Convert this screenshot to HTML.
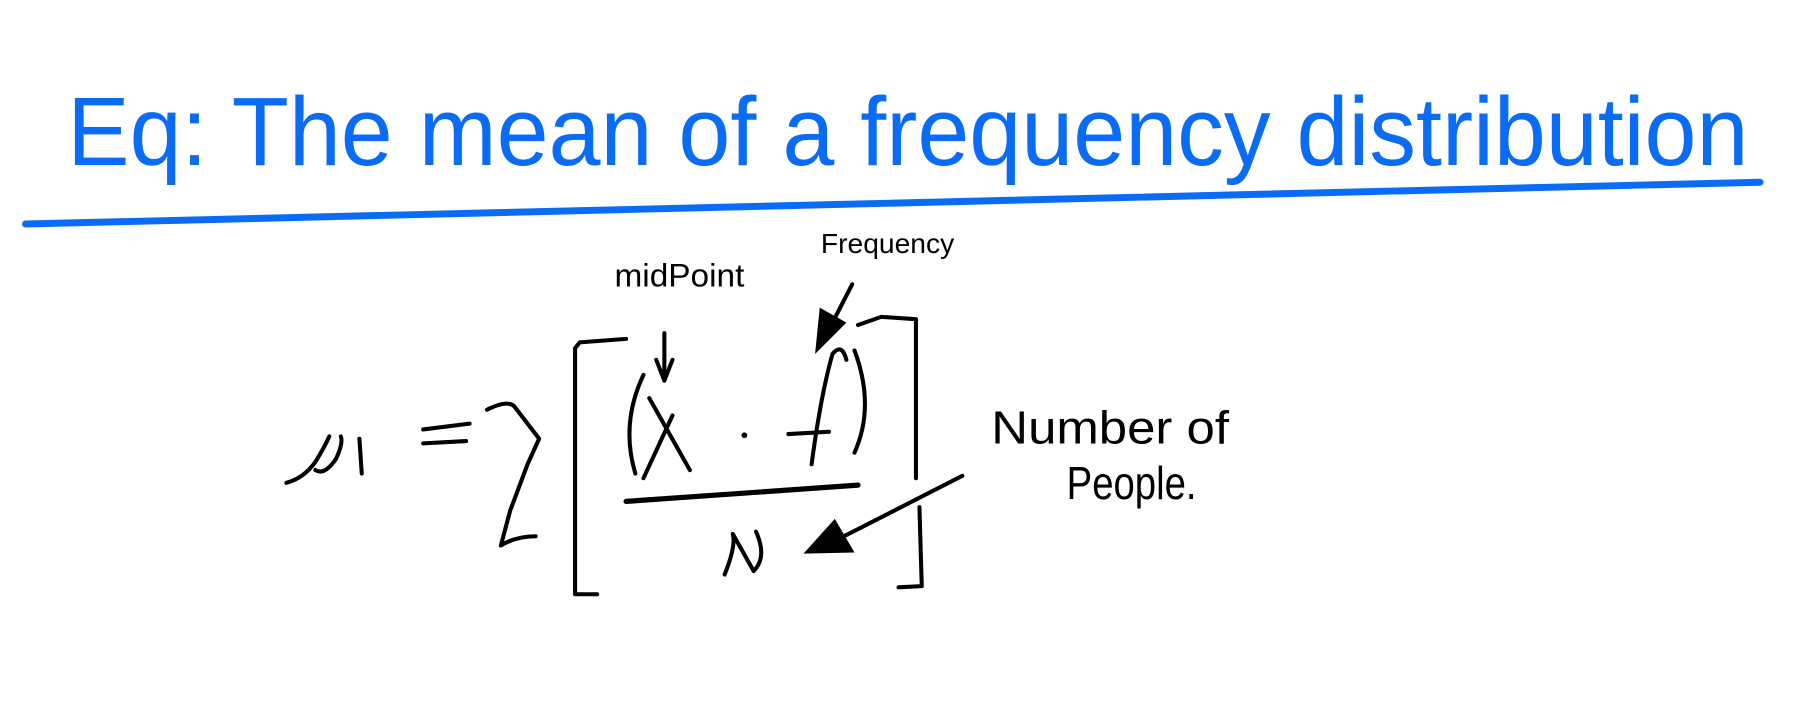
<!DOCTYPE html>
<html><head><meta charset="utf-8"><style>
html,body{margin:0;padding:0;background:#fff;width:1818px;height:708px;overflow:hidden}
svg{display:block}
text{font-family:"Liberation Sans",sans-serif}
</style></head><body>
<svg width="1818" height="708" viewBox="0 0 1568 610" preserveAspectRatio="none" xmlns="http://www.w3.org/2000/svg">
<rect width="1568" height="610" fill="#fff"/>
<text x="58" y="142" font-size="84" fill="#0a6cf5" textLength="1450" lengthAdjust="spacingAndGlyphs">Eq: The mean of a frequency distribution</text>
<path d="M22,193 L1518,157" stroke="#0a6cf5" stroke-width="6" stroke-linecap="round" fill="none"/>
<g stroke="#000" stroke-width="3.5" fill="none" stroke-linecap="round" stroke-linejoin="round">
<path d="M247,416 Q262,412 272,398 Q280,385 284,376 M272,405 Q280,410 290,395 Q296,382 294,376 M310,378 L312,408"/>
<path d="M365,370 L405,365 M365,382 L402,380"/>
<path d="M420,353 Q440,343 445,352 L465,378 L455,400 L440,440 L432,470 Q445,462 462,462"/>
<path d="M540,292 L500,295 L496,300 L496,512 L515,512"/>
<path d="M740,280 L760,273 L790,275 L790,412"/>
<path d="M793,437 L795,505 L775,506"/>
<path d="M540,432 L740,418" stroke-width="4.5"/>
<path d="M560,343 L595,405 M580,358 L555,412"/>
<path d="M555,323 Q535,365 548,408"/>
<path d="M737,302 Q755,350 737,390"/>
<path d="M680,374 L715,372 M700,400 Q708,340 718,305 Q726,295 730,310"/>
<path d="M625,495 Q635,470 632,460 L650,492 Q662,480 652,458"/>
<path d="M573,287 L573,328 M566,310 L573,328 L580,310"/>
<path d="M735,245 L718,278"/>
<path d="M830,410 L728,462"/>
</g>
<circle cx="642" cy="375" r="2.5" fill="#000"/>
<polygon points="703,305 707,265 730,278" fill="#000"/>
<polygon points="693,477 737,476 720,447" fill="#000"/>
<text x="530" y="247" font-size="28" textLength="112" lengthAdjust="spacingAndGlyphs">midPoint</text>
<text x="708" y="218" font-size="24" textLength="115" lengthAdjust="spacingAndGlyphs">Frequency</text>
<text x="855" y="382" font-size="40" textLength="205" lengthAdjust="spacingAndGlyphs">Number of</text>
<text x="920" y="430" font-size="40" textLength="112" lengthAdjust="spacingAndGlyphs">People.</text>
</svg>
</body></html>
